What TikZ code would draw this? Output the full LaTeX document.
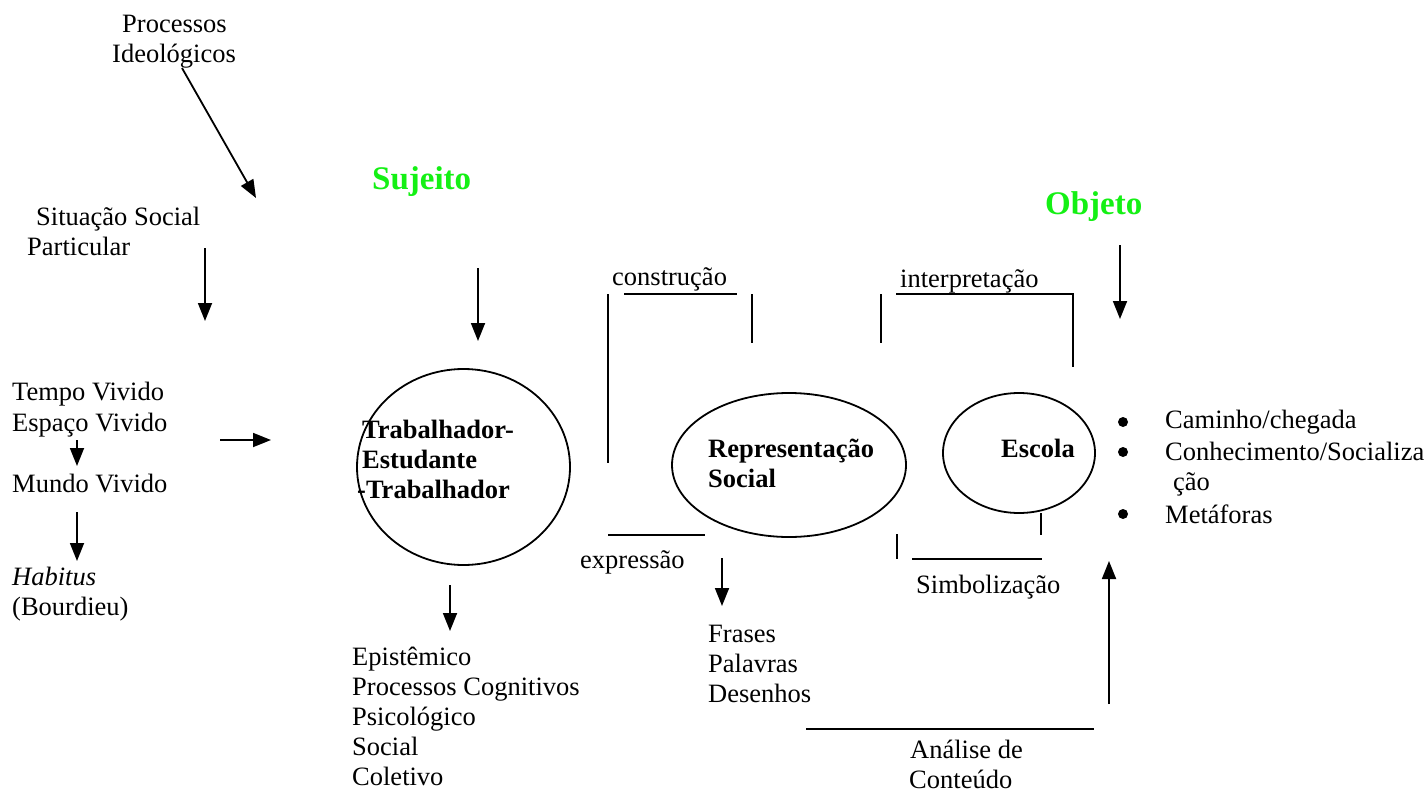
\documentclass[tikz,border=0pt]{standalone}
\usepackage{fontspec}
\setmainfont{Liberation Serif}
\usetikzlibrary{arrows.meta}
\definecolor{brightgreen}{RGB}{20,240,20}
\tikzset{
  txt/.style={anchor=base west, inner sep=0pt, font=\fontsize{26.5}{30}\selectfont},
  btxt/.style={txt, font=\fontsize{26.5}{30}\selectfont\bfseries},
  gtxt/.style={anchor=base west, inner sep=0pt, text=brightgreen, font=\fontsize{33}{38}\selectfont\bfseries},
  arr/.style={line width=1.8pt, -{Triangle[length=18pt,width=14pt]}},
  seg/.style={line width=1.8pt},
  oval/.style={draw, ellipse, line width=1.8pt, inner sep=0pt},
  bul/.style={circle, fill=black, inner sep=0pt, minimum size=10pt}
}
\usetikzlibrary{shapes.geometric}
\begin{document}
\begin{tikzpicture}[x=1pt,y=-1pt]
\useasboundingbox (0,0) rectangle (1426,797);

% left column
\node[txt] (proc) at (122,33) {Processos};
\node[txt] (ideo) at (112,63) {Ideológicos};
\coordinate (ideoA) at (182,68);
\coordinate (ideoB) at (256,198);
\draw[arr] (ideoA) -- (ideoB);
\node[txt] (sit) at (36,225) {Situação Social};
\node[txt] (part) at (27,255) {Particular};
\coordinate (sitA) at (205,248);
\coordinate (sitB) at (205,321);
\draw[arr] (sitA) -- (sitB);
\node[txt] (tempo) at (12,400) {Tempo Vivido};
\node[txt] (espaco) at (12,431) {Espaço Vivido};
\coordinate (espA) at (77,440);
\coordinate (espB) at (77,466);
\draw[arr] (espA) -- (espB);
\node[txt] (mundo) at (12,492) {Mundo Vivido};
\coordinate (munA) at (77,512);
\coordinate (munB) at (77,561);
\draw[arr] (munA) -- (munB);
\node[txt] (hab) at (12,585) {\itshape Habitus};
\node[txt] (bour) at (12,615) {(Bourdieu)};
\coordinate (horA) at (220,440);
\coordinate (horB) at (271,440);
\draw[arr] (horA) -- (horB);

% Sujeito
\node[gtxt] (suj) at (372,189) {Sujeito};
\coordinate (sujA) at (478,268);
\coordinate (sujB) at (478,341);
\draw[arr] (sujA) -- (sujB);
\node[oval, minimum width=213pt, minimum height=196pt] (trab) at (463.5,467) {};
\node[btxt] (t1) at (362,438) {Trabalhador-};
\node[btxt] (t2) at (362,468) {Estudante};
\node[btxt] (t3) at (357,498) {-Trabalhador};
\coordinate (trabA) at (450,585);
\coordinate (trabB) at (450,631);
\draw[arr] (trabA) -- (trabB);
\node[txt] (e1) at (352,665) {Epistêmico};
\node[txt] (e2) at (352,695) {Processos Cognitivos};
\node[txt] (e3) at (352,725) {Psicológico};
\node[txt] (e4) at (352,755) {Social};
\node[txt] (e5) at (352,785) {Coletivo};

% construção bracket
\node[txt] (cons) at (612,285) {construção};
\coordinate (c1) at (608,294);
\coordinate (c2) at (608,463);
\draw[seg] (c1) -- (c2);
\coordinate (c3) at (624,294);
\coordinate (c4) at (737,294);
\draw[seg] (c3) -- (c4);
\coordinate (c5) at (752,294);
\coordinate (c6) at (752,343);
\draw[seg] (c5) -- (c6);

% interpretação bracket
\node[txt] (interp) at (900,287) {interpretação};
\coordinate (i1) at (881,294);
\coordinate (i2) at (881,343);
\draw[seg] (i1) -- (i2);
\coordinate (i3) at (896,294);
\coordinate (i4) at (1073,294);
\coordinate (i5) at (1073,367);
\draw[seg] (i3) -- (i4) -- (i5);

% Representação Social
\node[oval, minimum width=234pt, minimum height=144pt] (rep) at (789,465) {};
\node[btxt] (r1) at (708,457) {Representação};
\node[btxt] (r2) at (708,487) {Social};

% Escola
\node[oval, minimum width=152pt, minimum height=120pt] (esc) at (1019,453) {};
\node[btxt] (escT) at (1001,457) {Escola};

% expressão
\coordinate (x1) at (608,535);
\coordinate (x2) at (705,535);
\draw[seg] (x1) -- (x2);
\node[txt] (expr) at (580,568) {expressão};
\coordinate (xA) at (722,558);
\coordinate (xB) at (722,606);
\draw[arr] (xA) -- (xB);
\node[txt] (f1) at (708,642) {Frases};
\node[txt] (f2) at (708,672) {Palavras};
\node[txt] (f3) at (708,702) {Desenhos};

% Simbolização
\coordinate (s1) at (897,534);
\coordinate (s2) at (897,559);
\draw[seg] (s1) -- (s2);
\coordinate (s3) at (912,559);
\coordinate (s4) at (1042,559);
\draw[seg] (s3) -- (s4);
\coordinate (s5) at (1041,513);
\coordinate (s6) at (1041,535);
\draw[seg] (s5) -- (s6);
\node[txt] (simb) at (916,593) {Simbolização};

% Objeto
\node[gtxt] (obj) at (1045,214) {Objeto};
\coordinate (oA) at (1120,245);
\coordinate (oB) at (1120,319);
\draw[arr] (oA) -- (oB);

% bullets
\node[bul] (b1) at (1123,422) {};
\node[txt] (l1) at (1165,428) {Caminho/chegada};
\node[bul] (b2) at (1123,452) {};
\node[txt] (l2) at (1165,460) {Conhecimento/Socializa};
\node[txt] (l2b) at (1173,490) {ção};
\node[bul] (b3) at (1123,514) {};
\node[txt] (l3) at (1165,523) {Metáforas};

% Análise de Conteúdo
\coordinate (a1) at (806,729);
\coordinate (a2) at (1094,729);
\draw[seg] (a1) -- (a2);
\coordinate (upA) at (1109,704);
\coordinate (upB) at (1109,561);
\draw[arr] (upA) -- (upB);
\node[txt] (an1) at (910,758) {Análise de};
\node[txt] (an2) at (909,788) {Conteúdo};
\end{tikzpicture}
\end{document}
